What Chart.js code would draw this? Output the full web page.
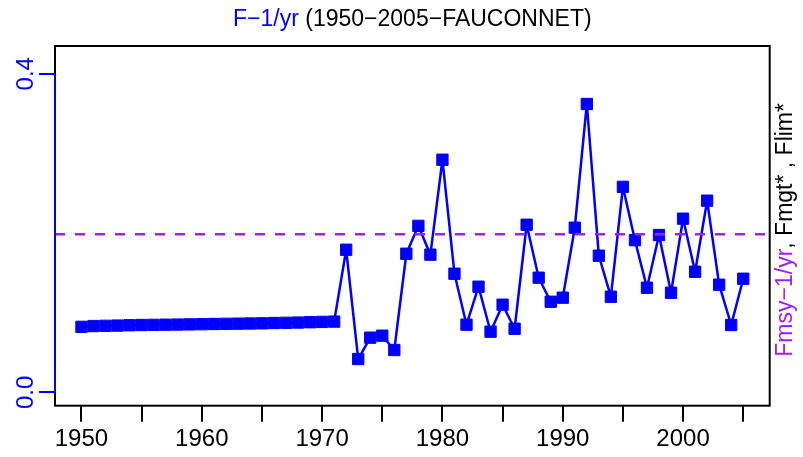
<!DOCTYPE html>
<html>
<head>
<meta charset="utf-8">
<script src="https://cdn.jsdelivr.net/npm/chart.js@4/dist/chart.umd.min.js"></script>
<style>
  html, body { margin: 0; padding: 0; background: #ffffff; }
  #c { display: block; }
</style>
</head>
<body>
<canvas id="c" width="803" height="457"></canvas>
<script>
// ---- data ----
const years = [1950,1951,1952,1953,1954,1955,1956,1957,1958,1959,
               1960,1961,1962,1963,1964,1965,1966,1967,1968,1969,
               1970,1971,1972,1973,1974,1975,1976,1977,1978,1979,
               1980,1981,1982,1983,1984,1985,1986,1987,1988,1989,
               1990,1991,1992,1993,1994,1995,1996,1997,1998,1999,
               2000,2001,2002,2003,2004,2005];
const fValues = [0.0822,0.0832,0.0835,0.0838,0.0842,0.0845,0.0847,0.0849,0.0851,0.0853,
                 0.0855,0.0858,0.0860,0.0862,0.0864,0.0866,0.0870,0.0873,0.0876,0.0880,
                 0.0884,0.0888,0.179,0.0418,0.0686,0.0711,0.0531,0.174,0.209,0.1728,
                 0.292,0.1489,0.0849,0.1326,0.0761,0.110,0.0798,0.2104,0.1439,0.1137,
                 0.1188,0.2067,0.362,0.1715,0.120,0.258,0.191,0.1313,0.1975,0.125,
                 0.218,0.1514,0.2406,0.1351,0.0845,0.1426];
const fmsy = 0.1984;
const xTicks = [1950,1955,1960,1965,1970,1975,1980,1985,1990,1995,2000,2005];
const xTickLabels = ['1950','','1960','','1970','','1980','','1990','','2000',''];
const yTicks = [0, 0.4];
const yTickLabels = ['0.0', '0.4'];
const xMin = 1947.8, xMax = 2007.2;
const yMin = -0.0168, yMax = 0.4348;
const titleParts = [{t: 'F\u22121/yr', c: '#0000ff'}, {t: ' (1950\u22122005\u2212FAUCONNET)', c: '#000000'}];
const rightLabelParts = [{t: 'Fmsy\u22121/yr', c: '#a020f0'}, {t: ', Fmgt* , Flim*', c: '#000000'}];

// ---- style ----
const FONT = "'Liberation Sans', Arial, sans-serif";
Chart.defaults.font.family = FONT;

function drawParts(ctx, parts, font) {
  ctx.font = font;
  let total = 0;
  parts.forEach(p => { total += ctx.measureText(p.t).width; });
  let x = -total / 2;
  parts.forEach(p => {
    ctx.fillStyle = p.c;
    ctx.fillText(p.t, x, 0);
    x += ctx.measureText(p.t).width;
  });
}

const decor = {
  id: 'decor',
  afterDraw(chart) {
    const ctx = chart.ctx;
    const a = chart.chartArea;
    const ys = chart.scales.y;
    ctx.save();
    // box
    ctx.strokeStyle = '#000000';
    ctx.lineWidth = 2;
    ctx.strokeRect(a.left, a.top, a.right - a.left, a.bottom - a.top);
    // blue y-axis segment
    ctx.strokeStyle = '#0000ff';
    ctx.beginPath();
    ctx.moveTo(a.left, ys.getPixelForValue(yTicks[0]));
    ctx.lineTo(a.left, ys.getPixelForValue(yTicks[yTicks.length - 1]));
    ctx.stroke();
    // y tick labels (rotated)
    ctx.fillStyle = '#0000ff';
    ctx.font = '24px ' + FONT;
    ctx.textAlign = 'center';
    ctx.textBaseline = 'alphabetic';
    yTicks.forEach((v, i) => {
      ctx.save();
      ctx.translate(a.left - 22, ys.getPixelForValue(v));
      ctx.rotate(-Math.PI / 2);
      ctx.fillText(yTickLabels[i], 0, 0);
      ctx.restore();
    });
    // title
    ctx.textAlign = 'left';
    ctx.save();
    ctx.translate((a.left + a.right) / 2, 26);
    drawParts(ctx, titleParts, '23px ' + FONT);
    ctx.restore();
    // right label
    ctx.save();
    ctx.translate(a.right + 22, (a.top + a.bottom) / 2 + 4);
    ctx.rotate(-Math.PI / 2);
    drawParts(ctx, rightLabelParts, '23px ' + FONT);
    ctx.restore();
    ctx.restore();
  }
};

new Chart(document.getElementById('c'), {
  type: 'line',
  data: {
    datasets: [
      {
        label: 'Fmsy',
        data: [{x: xMin, y: fmsy}, {x: xMax, y: fmsy}],
        borderColor: '#a020f0',
        borderWidth: 2.5,
        borderDash: [10, 10],
        pointRadius: 0,
        fill: false
      },
      {
        label: 'F',
        data: years.map((yr, i) => ({x: yr, y: fValues[i]})),
        borderColor: '#0000ff',
        borderWidth: 2.5,
        borderJoinStyle: 'round',
        borderCapStyle: 'round',
        pointStyle: 'rect',
        pointRadius: 8,
        pointBorderWidth: 1,
        pointBackgroundColor: '#0000ff',
        pointBorderColor: '#0000ff',
        fill: false,
        tension: 0
      }
    ]
  },
  options: {
    responsive: false,
    animation: false,
    devicePixelRatio: 1,
    layout: { padding: { top: 46, right: 33.3, left: 0, bottom: 0 } },
    plugins: { legend: { display: false }, tooltip: { enabled: false }, title: { display: false } },
    scales: {
      x: {
        type: 'linear',
        min: xMin,
        max: xMax,
        afterBuildTicks(scale) { scale.ticks = xTicks.map(v => ({value: v})); },
        afterFit(scale) { scale.height = 51.3; },
        ticks: {
          autoSkip: false,
          maxRotation: 0,
          minRotation: 0,
          color: '#000000',
          padding: 3,
          font: { size: 24, family: FONT },
          callback(value) { const i = xTicks.indexOf(value); return i >= 0 ? xTickLabels[i] : ''; }
        },
        grid: { drawOnChartArea: false, drawTicks: true, tickLength: 16, color: '#000000', lineWidth: 2 },
        border: { display: false }
      },
      y: {
        type: 'linear',
        min: yMin,
        max: yMax,
        afterBuildTicks(scale) { scale.ticks = yTicks.map(v => ({value: v})); },
        afterFit(scale) { scale.width = 55; },
        ticks: { display: false },
        grid: { drawOnChartArea: false, drawTicks: true, tickLength: 16, color: '#0000ff', lineWidth: 2 },
        border: { display: false }
      }
    }
  },
  plugins: [decor]
});
</script>
</body>
</html>
